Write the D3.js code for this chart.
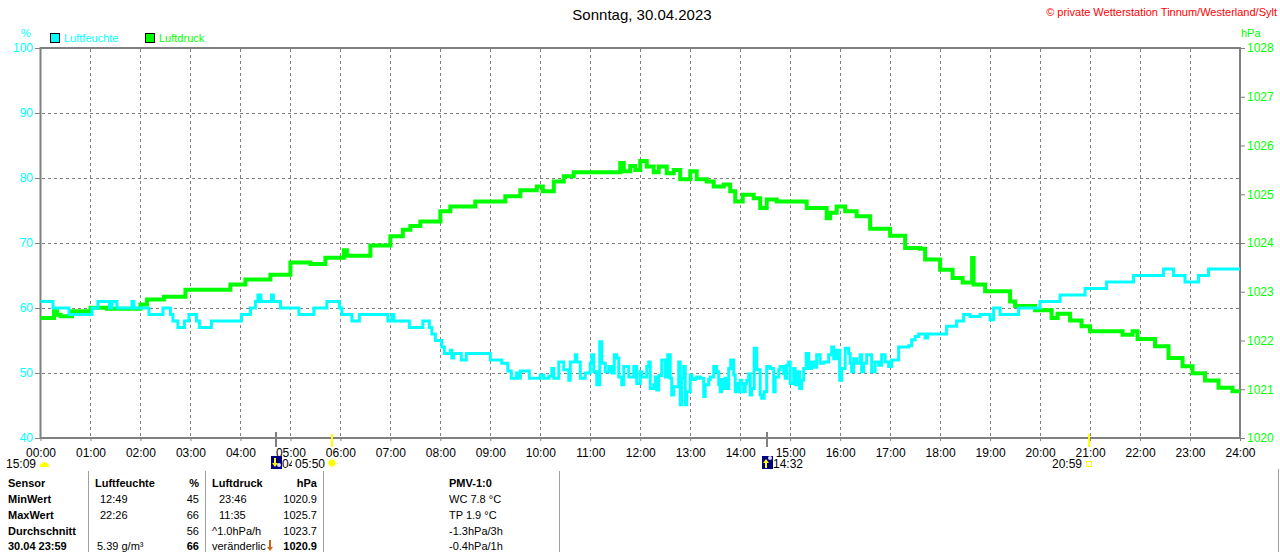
<!DOCTYPE html>
<html>
<head>
<meta charset="utf-8">
<script src="https://cdn.jsdelivr.net/npm/d3@7"></script>
<style>
  body { margin: 0; background: #fff; }
  svg { display: block; font-family: 'Liberation Sans', Arial, sans-serif; }
</style>
</head>
<body>
<div id="chart"></div>
<script>
// Werte: [Stunde, Wert]
var luftfeuchte = [
  [0, 61], [0.25, 60], [0.57, 59], [1.03, 60], [1.15, 61], [1.38, 60], [1.43, 61], [1.53, 60], [1.83, 61], [1.87, 60],
  [2.17, 59], [2.45, 60], [2.6, 59], [2.65, 58], [2.75, 57], [2.88, 58], [2.97, 59], [3.12, 58], [3.18, 57], [3.42, 58],
  [4.02, 59], [4.2, 60], [4.3, 61], [4.35, 62], [4.41, 61], [4.62, 62], [4.66, 61], [4.8, 60], [5.17, 59], [5.47, 60],
  [5.73, 61], [5.98, 60], [6.03, 59], [6.23, 58], [6.38, 59], [6.95, 58], [7.03, 59], [7.07, 58], [7.38, 57], [7.65, 58],
  [7.78, 57], [7.83, 56], [7.9, 55], [8.03, 54], [8.08, 53], [8.2, 53.5], [8.23, 52.3], [8.27, 53], [8.42, 52], [8.52, 53],
  [9.0, 52], [9.23, 51.5], [9.35, 50.3], [9.42, 49.2], [9.52, 50], [9.55, 49.2], [9.6, 50.3], [9.78, 49.2],
  [10.0, 49.7], [10.07, 49.2], [10.17, 49.5], [10.23, 50.7], [10.27, 49.2], [10.37, 51.7], [10.47, 50.5], [10.57, 48.9],
  [10.6, 51.7], [10.7, 52.8], [10.73, 51.7], [10.8, 49.2], [10.9, 50], [11.0, 51.5], [11.03, 52.8], [11.07, 50.2],
  [11.13, 48.2], [11.19, 54.8], [11.23, 51.5], [11.3, 50.2], [11.37, 51], [11.43, 50], [11.48, 52.8], [11.53, 52.3],
  [11.57, 49.4], [11.63, 48.2], [11.67, 51], [11.77, 49.4], [11.87, 51], [11.93, 48.4], [12.0, 50.2], [12.03, 49.4],
  [12.13, 51], [12.17, 51.7], [12.2, 47.6], [12.27, 48.2], [12.3, 49.4], [12.33, 47.4], [12.37, 49.6], [12.43, 52],
  [12.5, 49.4], [12.55, 52.8], [12.6, 49.2], [12.63, 46.6], [12.67, 47.9], [12.77, 51.7], [12.8, 45.1], [12.83, 49.2],
  [12.87, 51], [12.9, 45.1], [12.93, 47.1], [13.0, 49.7], [13.03, 49], [13.1, 49.2], [13.13, 49.4], [13.2, 49.2],
  [13.27, 46.4], [13.3, 48.2], [13.37, 49], [13.4, 49.4], [13.47, 51], [13.53, 50.2], [13.57, 48.2], [13.6, 47.1],
  [13.63, 49], [13.67, 47.6], [13.7, 49.2], [13.73, 47.6], [13.77, 50.7], [13.81, 52], [13.87, 49.7], [13.9, 47.1],
  [13.93, 48.4], [13.97, 47.1], [14.0, 48.9], [14.03, 48.4], [14.07, 47.1], [14.1, 48.4], [14.13, 48.9], [14.17, 49.9],
  [14.2, 46.6], [14.23, 47.6], [14.28, 53.8], [14.33, 50.5], [14.4, 46.6], [14.43, 46.1], [14.48, 47.1], [14.53, 51],
  [14.6, 50.7], [14.67, 47.1], [14.7, 49.4], [14.77, 50.5], [14.8, 51], [14.87, 49.9], [14.9, 49.2], [14.93, 51.2],
  [14.97, 51.7], [15.0, 48.4], [15.07, 50.7], [15.1, 48.2], [15.13, 50.2], [15.19, 47.6], [15.23, 48.9], [15.27, 50.7],
  [15.32, 53], [15.37, 50.7], [15.43, 51.7], [15.47, 50.9], [15.53, 52.8], [15.6, 51.5], [15.67, 51.7], [15.77, 52.8],
  [15.83, 54], [15.87, 52.2], [15.93, 53.5], [15.99, 48.9], [16.03, 50.7], [16.1, 53.8], [16.17, 53], [16.2, 51.5],
  [16.23, 50.2], [16.27, 52.2], [16.33, 51.5], [16.4, 52.8], [16.43, 50.2], [16.47, 51.5], [16.53, 52.8], [16.63, 50.2],
  [16.7, 51.7], [16.77, 51.2], [16.83, 52.8], [16.9, 51.7], [16.97, 51], [17.03, 52], [17.17, 54], [17.37, 54.2],
  [17.43, 55.1], [17.5, 55.6], [17.57, 56], [17.7, 55.4], [17.75, 56],
  [18.13, 57.2], [18.33, 58], [18.47, 59], [18.6, 58.7], [18.8, 59], [19.0, 58.2], [19.07, 60], [19.2, 59], [19.57, 60],
  [20.0, 61], [20.4, 62], [20.9, 63], [21.33, 64], [21.87, 65], [22.47, 66], [22.67, 65], [22.9, 64], [23.17, 65], [23.37, 66],
  [24, 66]
]

var luftdruck = [
  [0, 1022.46], [0.27, 1022.6], [0.33, 1022.53], [0.4, 1022.5], [0.63, 1022.6], [1.0, 1022.67], [1.33, 1022.65], [2.0, 1022.74],
  [2.13, 1022.84], [2.47, 1022.9], [2.9, 1023.04], [3.8, 1023.15], [4.1, 1023.25], [4.6, 1023.35], [5.0, 1023.6], [5.4, 1023.57],
  [5.7, 1023.7], [6.07, 1023.85], [6.13, 1023.74], [6.6, 1023.95], [7.0, 1024.14], [7.25, 1024.27], [7.4, 1024.35], [7.6, 1024.44],
  [8.0, 1024.65], [8.2, 1024.75], [8.7, 1024.85], [9.3, 1024.96], [9.6, 1025.08], [9.93, 1025.16], [10.05, 1025.06], [10.27, 1025.26],
  [10.47, 1025.37], [10.67, 1025.45], [11.5, 1025.45], [11.6, 1025.64], [11.67, 1025.47], [11.8, 1025.58], [11.9, 1025.5],
  [12.0, 1025.68], [12.13, 1025.57], [12.27, 1025.45], [12.37, 1025.57], [12.53, 1025.43], [12.67, 1025.5], [12.8, 1025.31],
  [13.0, 1025.47], [13.13, 1025.31], [13.33, 1025.26], [13.47, 1025.16], [13.67, 1025.2], [13.8, 1025.06], [13.9, 1024.85],
  [14.05, 1024.99], [14.27, 1024.92], [14.4, 1024.72], [14.53, 1024.89], [14.73, 1024.85], [15.33, 1024.72], [15.73, 1024.51],
  [15.8, 1024.62], [15.93, 1024.75], [16.1, 1024.65], [16.33, 1024.55], [16.6, 1024.29], [17.0, 1024.15], [17.3, 1023.9],
  [17.6, 1023.88], [17.7, 1023.66], [18.0, 1023.45], [18.25, 1023.28], [18.45, 1023.19], [18.64, 1023.69], [18.67, 1023.15],
  [18.9, 1023.01], [19.4, 1022.8], [19.5, 1022.71], [19.9, 1022.62], [20.23, 1022.46], [20.35, 1022.55], [20.6, 1022.41],
  [20.83, 1022.29], [21.0, 1022.19], [21.65, 1022.12], [21.85, 1022.19], [21.95, 1022.03], [22.3, 1021.88], [22.57, 1021.64],
  [22.85, 1021.47], [23.05, 1021.33], [23.3, 1021.18], [23.57, 1021.03], [23.85, 1020.96], [24, 1020.96]
]

var stunden = d3.range(0, 25)
var feuchteTicks = [40, 50, 60, 70, 80, 90, 100]
var druckTicks = [1020, 1021, 1022, 1023, 1024, 1025, 1026, 1027, 1028]

// Sonne / Mond: Zeit in Stunden
var astro = [
  {t: 4 + 43 / 60, label: '04:43', kind: 'moonrise'},
  {t: 5 + 50 / 60, label: '05:50', kind: 'sunrise'},
  {t: 14 + 32 / 60, label: '14:32', kind: 'moonset'},
  {t: 20 + 59 / 60, label: '20:59', kind: 'sunset'}
]
var tageslaenge = '15:09'

var tabSensor = ['Sensor', 'MinWert', 'MaxWert', 'Durchschnitt', '30.04  23:59']
var tabFeuchteZeit = ['Luftfeuchte', '12:49', '22:26', '', '5.39 g/m³']
var tabFeuchteWert = ['%', '45', '66', '56', '66']
var tabDruckZeit = ['Luftdruck', '23:46', '11:35', '^1.0hPa/h', 'veränderlich']
var tabDruckWert = ['hPa', '1020.9', '1025.7', '1023.7', '1020.9']
var tabPmv = ['PMV-1:0', 'WC 7.8 °C', 'TP 1.9 °C', '-1.3hPa/3h', '-0.4hPa/1h']

var W = 1280
var H = 552
var svg = d3.select('#chart').append('svg').attr('width', W).attr('height', H)

var x = d3.scaleLinear().domain([0, 24]).range([40.5, 1240])
var yL = d3.scaleLinear().domain([40, 100]).range([438, 48])
var yR = d3.scaleLinear().domain([1020, 1028]).range([438, 48])

// Titel
svg.append('text').attr('x', 642).attr('y', 20).attr('text-anchor', 'middle')
  .style('font-size', '15px').attr('fill', '#000').text('Sonntag, 30.04.2023')
svg.append('text').attr('x', 1277).attr('y', 16).attr('text-anchor', 'end')
  .style('font-size', '11px').attr('fill', '#ff0000').text('© private Wetterstation Tinnum/Westerland/Sylt')

// Einheiten
svg.append('text').attr('x', 26).attr('y', 37).attr('text-anchor', 'middle')
  .style('font-size', '11px').attr('fill', '#00ffff').text('%')
svg.append('text').attr('x', 1241).attr('y', 37)
  .style('font-size', '11px').attr('fill', '#00ff00').text('hPa')

// Legende
var legend = [['Luftfeuchte', '#00ffff', 50], ['Luftdruck', '#00ff00', 145]]
legend.forEach(function (l) {
  svg.append('rect').attr('x', l[2] + 0.5).attr('y', 33.5).attr('width', 9).attr('height', 9)
    .attr('fill', l[1]).attr('stroke', '#000').attr('stroke-width', 1)
  svg.append('text').attr('x', l[2] + 14).attr('y', 42)
    .style('font-size', '11px').attr('fill', l[1]).text(l[0])
})

// Gitter
var grid = svg.append('g').attr('stroke', '#808080').attr('stroke-dasharray', '3,3').attr('stroke-width', 1)
grid.selectAll('.gx').data(stunden.slice(1, 24)).enter().append('line')
  .attr('x1', function (d) { return Math.round(x(d)) + 0.5 })
  .attr('x2', function (d) { return Math.round(x(d)) + 0.5 })
  .attr('y1', 49).attr('y2', 437)
grid.selectAll('.gy').data(feuchteTicks.slice(1, 6)).enter().append('line')
  .attr('y1', function (d) { return Math.round(yL(d)) + 0.5 })
  .attr('y2', function (d) { return Math.round(yL(d)) + 0.5 })
  .attr('x1', 42).attr('x2', 1239)

// Achsen
var axL = d3.axisLeft(yL).tickValues(feuchteTicks).tickSize(5).tickPadding(2).tickFormat(d3.format('d'))
var gL = svg.append('g').attr('transform', 'translate(40,0)').call(axL)
gL.select('.domain').remove()
gL.selectAll('line').attr('stroke', '#808080')
gL.selectAll('text').attr('fill', '#00ffff').style('font-size', '12px').style('font-family', 'inherit')

var axR = d3.axisRight(yR).tickValues(druckTicks).tickSize(5).tickPadding(2).tickFormat(d3.format('d'))
var gR = svg.append('g').attr('transform', 'translate(1240,0)').call(axR)
gR.select('.domain').remove()
gR.selectAll('line').attr('stroke', '#808080')
gR.selectAll('text').attr('fill', '#00ff00').style('font-size', '12px').style('font-family', 'inherit')

var axB = d3.axisBottom(x).tickValues(stunden).tickSize(3).tickPadding(7)
  .tickFormat(function (d) { return (d < 10 ? '0' : '') + d + ':00' })
var gB = svg.append('g').attr('transform', 'translate(0,438)').call(axB)
gB.select('.domain').remove()
gB.selectAll('line').attr('stroke', '#808080')
gB.selectAll('text').attr('fill', '#000').style('font-size', '12px').style('font-family', 'inherit')

// Rahmen
svg.append('rect').attr('x', 40.5).attr('y', 48).attr('width', 1199.5).attr('height', 390)
  .attr('fill', 'none').attr('stroke', '#808080').attr('stroke-width', 2)

// Kurven
var lineDruck = d3.line()
  .x(function (d) { return x(d[0]) })
  .y(function (d) { return yR(d[1]) })
  .curve(d3.curveStepAfter)
var lineFeuchte = d3.line()
  .x(function (d) { return x(d[0]) })
  .y(function (d) { return yL(d[1]) })
  .curve(d3.curveStepAfter)

svg.append('path').datum(luftdruck).attr('d', lineDruck)
  .attr('fill', 'none').attr('stroke', '#00ff00').attr('stroke-width', 4)
svg.append('path').datum(luftfeuchte).attr('d', lineFeuchte)
  .attr('fill', 'none').attr('stroke', '#00ffff').attr('stroke-width', 3)

// Sonnen- und Mondzeiten
svg.append('clipPath').attr('id', 'mondClip')
  .append('rect').attr('x', 0).attr('y', 440).attr('width', 292).attr('height', 40)
var astroG = svg.append('g')
astro.forEach(function (a) {
  var px = Math.round(x(a.t))
  var isSun = a.kind.indexOf('sun') === 0
  astroG.append('line').attr('x1', px).attr('x2', px)
    .attr('y1', isSun ? 434 : 432).attr('y2', 447)
    .attr('stroke', isSun ? '#ffff00' : '#808080').attr('stroke-width', 2)
  if (isSun) {
    astroG.append('text').attr('x', px - 7).attr('y', 468).attr('text-anchor', 'end')
      .style('font-size', '12px').attr('fill', '#000').text(a.label)
    if (a.kind === 'sunrise') {
      astroG.append('circle').attr('cx', px).attr('cy', 463).attr('r', 3.5).attr('fill', '#ffff00')
      d3.range(8).forEach(function (i) {
        var w = i * Math.PI / 4
        astroG.append('line')
          .attr('x1', px + Math.cos(w) * 4.5).attr('y1', 463 + Math.sin(w) * 4.5)
          .attr('x2', px + Math.cos(w) * 6).attr('y2', 463 + Math.sin(w) * 6)
          .attr('stroke', '#ffff80').attr('stroke-width', 1)
      })
    } else {
      astroG.append('rect').attr('x', px - 2.5).attr('y', 461.5).attr('width', 5).attr('height', 5)
        .attr('fill', 'none').attr('stroke', '#ffff00').attr('stroke-width', 1)
    }
  } else {
    astroG.append('rect').attr('x', px - 5).attr('y', 456).attr('width', 11).attr('height', 13).attr('fill', '#000080')
    astroG.append('path')
      .attr('d', a.kind === 'moonrise'
        ? 'M' + (px - 2) + ',458 L' + (px - 2) + ',463 L' + (px - 4) + ',463 L' + (px - 1) + ',467 L' + (px + 2) + ',463 L' + px + ',463 L' + px + ',458 Z'
        : 'M' + (px - 2) + ',468 L' + (px - 2) + ',463 L' + (px - 4) + ',463 L' + (px - 1) + ',459 L' + (px + 2) + ',463 L' + px + ',463 L' + px + ',468 Z')
      .attr('fill', '#ffff00')
    astroG.append('circle').attr('cx', px + 3).attr('cy', a.kind === 'moonrise' ? 465 : 458).attr('r', 2).attr('fill', '#e0e0ff')
    var mt = astroG.append('text').attr('x', px + 6).attr('y', 468)
      .style('font-size', '12px').attr('fill', '#000').text(a.label)
    // Mondaufgang wird von der Sonnenaufgangszeit verdeckt
    if (a.kind === 'moonrise') mt.attr('clip-path', 'url(#mondClip)')
  }
})

// Tageslänge
svg.append('text').attr('x', 36).attr('y', 468).attr('text-anchor', 'end')
  .style('font-size', '12px').attr('fill', '#000').text(tageslaenge)
svg.append('path').attr('d', 'M40,467 L40,465 Q44.5,459 49,465 L49,467 Z').attr('fill', '#ffff00')

// Tabelle
var rowsY = [487, 503, 519, 535, 550]
var tab = svg.append('g').style('font-size', '11px').attr('fill', '#000')
function spalte (arr, xx, anchor, boldFn) {
  arr.forEach(function (s, i) {
    tab.append('text').attr('x', xx).attr('y', rowsY[i]).attr('text-anchor', anchor)
      .style('font-weight', boldFn(i) ? 'bold' : 'normal').text(s)
  })
}
spalte(tabSensor, 8, 'start', function () { return true })
spalte(tabFeuchteZeit.slice(0, 1), 95, 'start', function () { return true })
tabFeuchteZeit.slice(1).forEach(function (s, i) {
  tab.append('text').attr('x', i === 3 ? 97 : 100).attr('y', rowsY[i + 1]).text(s)
})
spalte(tabFeuchteWert, 199, 'end', function (i) { return i === 0 || i === 4 })
spalte(tabDruckZeit.slice(0, 1), 212, 'start', function () { return true })
tabDruckZeit.slice(1).forEach(function (s, i) {
  tab.append('text').attr('x', i < 2 ? 219 : 212).attr('y', rowsY[i + 1]).text(s)
})
spalte(tabDruckWert, 317, 'end', function (i) { return i === 0 || i === 4 })
spalte(tabPmv, 449, 'start', function (i) { return i === 0 })

// Tendenzpfeil vor dem letzten Luftdruck
tab.append('rect').attr('x', 266).attr('y', 540).attr('width', 8).attr('height', 12).attr('fill', '#fff')
tab.append('path').attr('d', 'M269,540 L271,540 L271,547 L273,547 L270,551 L267,547 L269,547 Z').attr('fill', '#c86414')

var trenner = [88.5, 205.5, 323.5, 559.5]
svg.selectAll('.trenner').data(trenner).enter().append('line')
  .attr('x1', function (d) { return d }).attr('x2', function (d) { return d })
  .attr('y1', 471).attr('y2', 552).attr('stroke', '#a0a0a0').attr('stroke-width', 1)
svg.append('line').attr('x1', 1278.5).attr('x2', 1278.5).attr('y1', 469).attr('y2', 552)
  .attr('stroke', '#a0a0a0').attr('stroke-width', 1)
</script>
</body>
</html>
